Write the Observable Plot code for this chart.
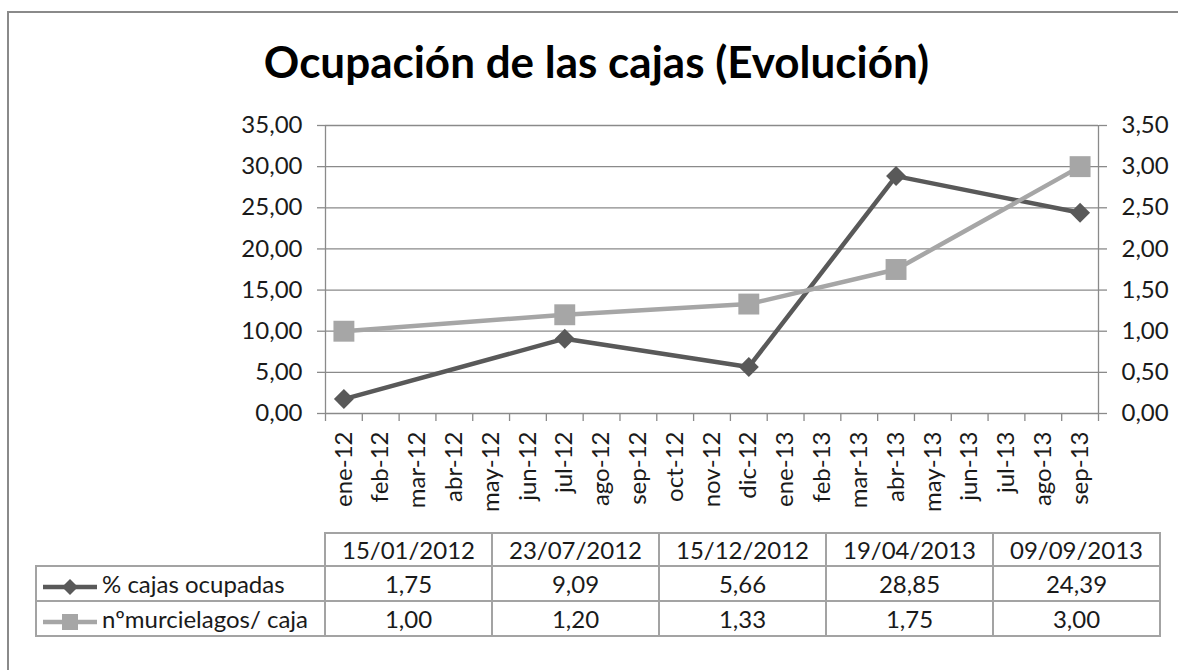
<!DOCTYPE html>
<html><head><meta charset="utf-8">
<script src="https://cdn.jsdelivr.net/npm/d3@7"></script>
<script src="https://cdn.jsdelivr.net/npm/@observablehq/plot@0.6"></script>
<style>
body{margin:0;background:#fff;}
#wrap{position:relative;width:1178px;height:670px;overflow:hidden;font-family:Lato,sans-serif;}
#frame{position:absolute;left:7px;top:11px;width:1300px;height:800px;border-left:2px solid #8a8a8a;border-top:2px solid #8a8a8a;}
#title{position:absolute;left:0;width:1193px;top:37px;line-height:48px;text-align:center;font-family:Lato,sans-serif;font-weight:bold;font-size:44px;color:#000;}
#chart{position:absolute;left:0;top:0;}
#tbl{position:absolute;left:35px;top:532px;border-collapse:collapse;table-layout:fixed;font-family:Lato,sans-serif;font-size:24px;color:#1a1a1a;}
#tbl td{border:2px solid #a3a3a3;text-align:center;padding:0;white-space:nowrap;}
#tbl tr.h td{height:31px;}
#tbl tr.r td{height:33px;}
#tbl td.empty{border-top:none;border-left:none;}
#tbl td.name{text-align:left;}
#tbl td.name svg{vertical-align:middle;margin-left:6px;margin-right:5px;}
</style></head>
<body>
<div id="wrap">
  <div id="frame"></div>
  <div id="chart"></div>
  <div id="title">Ocupación de las cajas (Evolución)</div>
  <table id="tbl"></table>
</div>
<script>
const monthLabels = ["ene-12","feb-12","mar-12","abr-12","may-12","jun-12","jul-12","ago-12","sep-12","oct-12","nov-12","dic-12","ene-13","feb-13","mar-13","abr-13","may-13","jun-13","jul-13","ago-13","sep-13"];
const sampleDates = ["15/01/2012","23/07/2012","15/12/2012","19/04/2013","09/09/2013"];
const pctOccupied = [1.75, 9.09, 5.66, 28.85, 24.39];
const batsPerBox = [1.00, 1.20, 1.33, 1.75, 3.00];
const leftTicks = [0, 5, 10, 15, 20, 25, 30, 35];
const rightTicks = [0, 0.5, 1, 1.5, 2, 2.5, 3, 3.5];
const seriesNames = ["% cajas ocupadas", "nºmurcielagos/ caja"];

const darkColor = "#595959";
const lightColor = "#a6a6a6";
const axisColor = "#8a8a8a";

const fmt = v => v.toFixed(2).replace(".", ",");
const ratio = leftTicks[leftTicks.length - 1] / rightTicks[rightTicks.length - 1];
function monthPos(s) {
  const [d, m, y] = s.split("/").map(Number);
  return (y - 2012) * 12 + (m - 1) + 0.5;
}
const pctData = sampleDates.map((d, i) => ({x: monthPos(d), v: pctOccupied[i]}));
const batData = sampleDates.map((d, i) => ({x: monthPos(d), v: batsPerBox[i]}));
const nMonths = monthLabels.length;
const boundaries = d3.range(0, nMonths + 1);
const centers = d3.range(nMonths).map(i => i + 0.5);

const chart = Plot.plot({
  width: 1178, height: 520,
  marginLeft: 325, marginRight: 80, marginTop: 125, marginBottom: 107,
  style: {fontFamily: "Lato, sans-serif", fontSize: "24px", color: "#1a1a1a", background: "transparent", overflow: "visible"},
  x: {type: "linear", domain: [0, nMonths]},
  y: {domain: [0, leftTicks[leftTicks.length - 1]]},
  marks: [
    Plot.ruleY(leftTicks, {stroke: axisColor, strokeWidth: 1.3}),
    Plot.ruleX([0, nMonths], {stroke: axisColor, strokeWidth: 1.3}),
    Plot.axisX(boundaries, {tickSize: 8, tickFormat: () => "", stroke: axisColor, strokeWidth: 1.3, label: null}),
    Plot.axisX(centers, {tickSize: 0, tickPadding: 18, tickRotate: -90, tickFormat: i => monthLabels[Math.floor(i)], label: null}),
    Plot.axisY(leftTicks, {anchor: "left", tickSize: 8, tickPadding: 15, tickFormat: fmt, stroke: axisColor, strokeWidth: 1.3, label: null}),
    Plot.axisY(rightTicks.map(v => v * ratio), {anchor: "right", tickSize: 8, tickPadding: 15, tickFormat: d => fmt(d / ratio), stroke: axisColor, strokeWidth: 1.3, label: null}),
    Plot.line(pctData, {x: "x", y: "v", stroke: darkColor, strokeWidth: 4.5}),
    Plot.dot(pctData, {x: "x", y: "v", symbol: "diamond2", r: 9, fill: darkColor}),
    Plot.line(batData, {x: "x", y: d => d.v * ratio, stroke: lightColor, strokeWidth: 4.5}),
    Plot.dot(batData, {x: "x", y: d => d.v * ratio, symbol: "square", r: 11.8, fill: lightColor})
  ]
});
document.getElementById("chart").appendChild(chart);

// data table
const tbl = document.getElementById("tbl");
const cg = document.createElement("colgroup");
[289, 167, 167, 167, 167, 167].forEach(w => { const c = document.createElement("col"); c.style.width = w + "px"; cg.appendChild(c); });
tbl.appendChild(cg);
const hr = document.createElement("tr"); hr.className = "h";
const e = document.createElement("td"); e.className = "empty"; hr.appendChild(e);
sampleDates.forEach(d => { const td = document.createElement("td"); td.textContent = d; hr.appendChild(td); });
tbl.appendChild(hr);
function keySvg(color, isDiamond) {
  const marker = isDiamond
    ? `<path d="M27 1 L35 9 L27 17 L19 9 Z" fill="${color}"/>`
    : `<rect x="19" y="1" width="16" height="16" fill="${color}"/>`;
  return `<svg width="54" height="18" viewBox="0 0 54 18"><line x1="0" y1="9" x2="54" y2="9" stroke="${color}" stroke-width="4.5"/>${marker}</svg>`;
}
[[pctOccupied, darkColor, true], [batsPerBox, lightColor, false]].forEach(([vals, col, dia], k) => {
  const tr = document.createElement("tr"); tr.className = "r";
  const n = document.createElement("td"); n.className = "name";
  n.innerHTML = keySvg(col, dia) + "<span>" + seriesNames[k] + "</span>";
  tr.appendChild(n);
  vals.forEach(v => { const td = document.createElement("td"); td.textContent = fmt(v); tr.appendChild(td); });
  tbl.appendChild(tr);
});
</script>
</body></html>
